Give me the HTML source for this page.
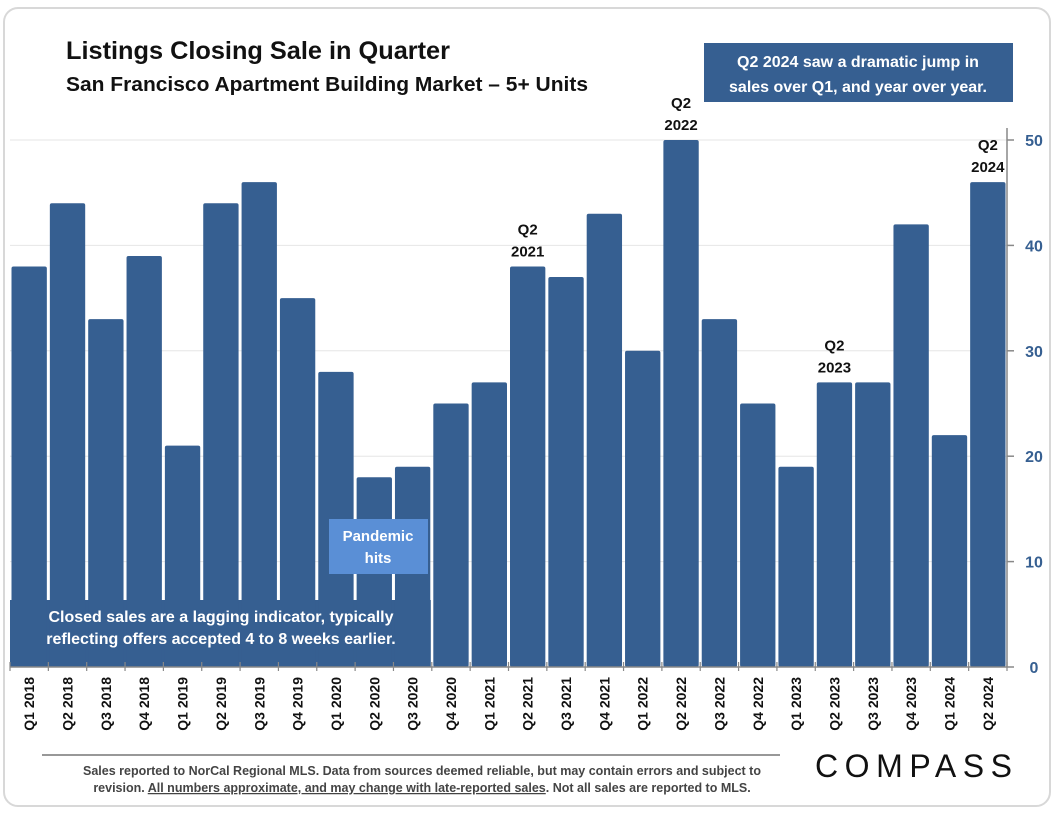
<!DOCTYPE html>
<html><head><meta charset="utf-8">
<style>
html,body{margin:0;padding:0;background:#fff;}
body{width:1056px;height:816px;position:relative;overflow:hidden;font-family:"Liberation Sans",sans-serif;}
svg text{font-family:"Liberation Sans",sans-serif;}
</style></head>
<body>
<svg id="chart" width="1056" height="816" xmlns="http://www.w3.org/2000/svg">
<rect x="4" y="8" width="1046" height="798" rx="14" fill="#fff" stroke="#d8d8d8" stroke-width="2"/>
<g id="grid"></g>
<g id="bars"></g>
<g id="axes"></g>
<text x="66" y="59" font-size="25" font-weight="bold" fill="#111" textLength="384" lengthAdjust="spacingAndGlyphs">Listings Closing Sale in Quarter</text>
<text x="66" y="91" font-size="20" font-weight="bold" fill="#111" textLength="522" lengthAdjust="spacingAndGlyphs">San Francisco Apartment Building Market – 5+ Units</text>
<g>
<rect x="704" y="43" width="309" height="59" fill="#365f91"/>
<text x="858" y="67" font-size="16" font-weight="bold" fill="#fff" text-anchor="middle">Q2 2024 saw a dramatic jump in</text>
<text x="858" y="92" font-size="16" font-weight="bold" fill="#fff" text-anchor="middle">sales over Q1, and year over year.</text>
</g>
<g>
<rect x="329" y="519" width="99" height="55" fill="#5a8fd6"/>
<text x="378" y="541" font-size="15" font-weight="bold" fill="#fff" text-anchor="middle">Pandemic</text>
<text x="378" y="563" font-size="15" font-weight="bold" fill="#fff" text-anchor="middle">hits</text>
</g>
<g>
<text x="221" y="622" font-size="16" font-weight="bold" fill="#fff" text-anchor="middle">Closed sales are a lagging indicator, typically</text>
<text x="221" y="644" font-size="16" font-weight="bold" fill="#fff" text-anchor="middle">reflecting offers accepted 4 to 8 weeks earlier.</text>
</g>
<line x1="42" y1="755" x2="780" y2="755" stroke="#777" stroke-width="1.5"/>
<text x="422" y="775" font-size="12.5" font-weight="bold" fill="#444" text-anchor="middle">Sales reported to NorCal Regional MLS. Data from sources deemed reliable, but may contain errors and subject to</text>
<text x="422" y="792" font-size="12.5" font-weight="bold" fill="#444" text-anchor="middle">revision. <tspan text-decoration="underline">All numbers approximate, and may change with late-reported sales</tspan>. Not all sales are reported to MLS.</text>
<text x="815" y="777" font-size="32" fill="#111" textLength="197" lengthAdjust="spacing">COMPASS</text>
</svg>
<script>
const categories=["Q1 2018","Q2 2018","Q3 2018","Q4 2018","Q1 2019","Q2 2019","Q3 2019","Q4 2019","Q1 2020","Q2 2020","Q3 2020","Q4 2020","Q1 2021","Q2 2021","Q3 2021","Q4 2021","Q1 2022","Q2 2022","Q3 2022","Q4 2022","Q1 2023","Q2 2023","Q3 2023","Q4 2023","Q1 2024","Q2 2024"];
const sales=[38,44,33,39,21,44,46,35,28,18,19,25,27,38,37,43,30,50,33,25,19,27,27,42,22,46];
const yTicks=[0,10,20,30,40,50];
const annotated=["Q2 2021","Q2 2022","Q2 2023","Q2 2024"];
const NS="http://www.w3.org/2000/svg";
const x0=10,x1=1007,y0=667,yTop=140,yMax=50;
const slot=(x1-x0)/categories.length;
function xs(i){return x0+i*slot;}
function ys(v){return y0-(v/yMax)*(y0-yTop);}
function mk(tag,attrs,parent){const e=document.createElementNS(NS,tag);for(const k in attrs)e.setAttribute(k,attrs[k]);parent.appendChild(e);return e;}
const grid=document.getElementById('grid'),bars=document.getElementById('bars'),axes=document.getElementById('axes');
yTicks.forEach(t=>{
  if(t>0){const g=mk('line',{x1:x0,x2:x1,y1:ys(t),y2:ys(t),stroke:'#e6e6e6','stroke-width':1},grid);
  
  }
  const tk=mk('line',{x1:x1,x2:x1+7,y1:ys(t),y2:ys(t),stroke:'#888','stroke-width':1.5},axes);
  
  
  const l=mk('text',{x:x1+27,y:ys(t)+6,'font-size':16,'font-weight':'bold',fill:'#365f91','text-anchor':'middle'},axes);
  l.textContent=t;
  
  
});
const ya=mk('line',{x1:x1,x2:x1,y1:y0,y2:128,stroke:'#888','stroke-width':1.5},axes);


const xa=mk('line',{x1:x0,x2:x1,y1:y0,y2:y0,stroke:'#888','stroke-width':1.5},axes);


const bg=mk('rect',{x:x0,y:600,width:xs(11)-x0-1,height:y0-600,fill:'#365f91'},bars);


categories.forEach((c,i)=>{
  const v=sales[i];const bx=xs(i)+1.5,bw=slot-3;
  const r=mk('rect',{x:bx,y:ys(v),width:bw,height:y0-ys(v),rx:2,fill:'#365f91'},bars);
  
  
  const tk=mk('line',{x1:xs(i),x2:xs(i),y1:y0-5,y2:y0+4,stroke:'#888','stroke-width':1.2},axes);
  
  
  const cx=xs(i)+slot/2;
  const t=mk('text',{x:0,y:0,'font-size':14,'font-weight':'bold',fill:'#111','text-anchor':'end',transform:`translate(${cx+5},${y0+10}) rotate(-90)`},axes);
  t.textContent=c;
  
  
  if(annotated.includes(c)){
    const p=c.split(' ');
    const a=mk('text',{x:cx,y:ys(v)-32,'font-size':15,'font-weight':'bold',fill:'#111','text-anchor':'middle'},axes);
    a.textContent=p[0];
    
    
    const b=mk('text',{x:cx,y:ys(v)-10,'font-size':15,'font-weight':'bold',fill:'#111','text-anchor':'middle'},axes);
    b.textContent=p[1];
    
    
  }
});
const mx=xs(categories.length);
const tkEnd=mk('line',{x1:mx,x2:mx,y1:y0-5,y2:y0+4,stroke:'#888','stroke-width':1.2},axes);


</script>
</body></html>
